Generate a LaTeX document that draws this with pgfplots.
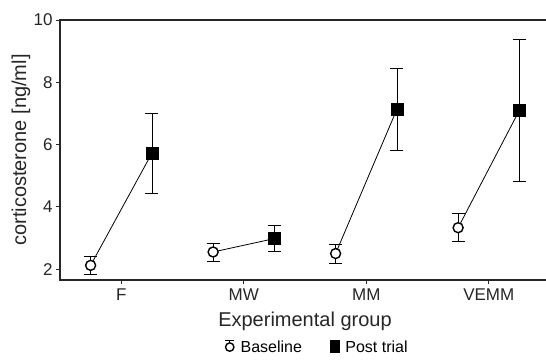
\documentclass[border=0pt]{standalone}
\usepackage{pgfplots}
\pgfplotsset{compat=1.18}
\usepackage{fontspec}
\setmainfont{Liberation Sans}
\begin{document}
\begin{tikzpicture}
\begin{axis}[
  at={(0pt,0pt)}, anchor=south west,
  scale only axis, width=490pt, height=260pt,
  xmin=-0.5, xmax=3.5, ymin=1.65, ymax=10,
  axis line style={line width=1.3pt, black!85},
  tick align=outside, xtick pos=bottom, ytick pos=left,
  major tick length=4pt, tick style={line width=0.9pt, black!85},
  xtick={0,1,2,3}, xticklabels={F,MW,MM,VEMM},
  ytick={2,4,6,8,10},
  /pgf/number format/assume math mode=true,
  ticklabel style={font=\fontsize{17}{17}\selectfont, black!85},
  xticklabel style={yshift=-1pt},
  xlabel={Experimental group},
  ylabel={corticosterone [ng/ml]},
  every axis x label/.style={at={(rel axis cs:0.5,0)}, yshift=-41pt, anchor=center,
    font=\fontsize{20}{20}\selectfont, text=black!85},
  every axis y label/.style={at={(rel axis cs:0,0.5)}, xshift=-39pt, rotate=90, anchor=center,
    font=\fontsize{20}{20}\selectfont, text=black!85},
  legend style={at={(rel axis cs:0.525,-0.258)}, anchor=center, draw=none, fill=none,
    legend columns=2, font=\fontsize{16}{16}\selectfont,
    nodes={inner xsep=2pt},
    /tikz/every odd column/.append style={column sep=4pt},
    /tikz/every even column/.append style={column sep=26pt}},
]
% connecting lines
\addplot[black, line width=0.8pt, forget plot] coordinates {(-0.25,2.12) (0.25,5.72)};
\addplot[black, line width=0.8pt, forget plot] coordinates {(0.75,2.55) (1.25,2.98)};
\addplot[black, line width=0.8pt, forget plot] coordinates {(1.75,2.50) (2.25,7.13)};
\addplot[black, line width=0.8pt, forget plot] coordinates {(2.75,3.33) (3.25,7.10)};
% baseline
\addplot[only marks, mark=*, mark size=5pt, mark options={fill=white, draw=black, line width=1.4pt},
  error bars/.cd, y dir=both, y explicit,
  error bar style={line width=0.7pt, black},
  error mark options={rotate=90, mark size=6.5pt, line width=0.7pt, black},
  /pgfplots/legend image code/.code={
    \draw[line width=0.8pt] (0pt,0pt)--(0pt,6.5pt) (-4.5pt,6.5pt)--(4.5pt,6.5pt);
    \draw[line width=1.4pt, fill=white] (0pt,0pt) circle (4.2pt);}
  ] coordinates {
  (-0.25,2.12) +- (0,0.30)
  (0.75,2.55) +- (0,0.29)
  (1.75,2.50) +- (0,0.31)
  (2.75,3.33) +- (0,0.45)
};
\addlegendentry{Baseline}
% post trial
\addplot[only marks, mark=square*, mark size=6pt, mark options={fill=black, draw=black},
  error bars/.cd, y dir=both, y explicit,
  error bar style={line width=0.7pt, black},
  error mark options={rotate=90, mark size=6.5pt, line width=0.7pt, black},
  /pgfplots/legend image code/.code={
    \fill (-4.5pt,-5.5pt) rectangle (4.5pt,6.5pt);}
  ] coordinates {
  (0.25,5.72) +- (0,1.29)
  (1.25,2.98) +- (0,0.42)
  (2.25,7.13) +- (0,1.33)
  (3.25,7.10) +- (0,2.27)
};
\addlegendentry{Post trial}
\end{axis}
\pgfresetboundingbox
\path[use as bounding box] (-60pt,-79pt) rectangle (486pt,280pt);
\end{tikzpicture}
\end{document}
